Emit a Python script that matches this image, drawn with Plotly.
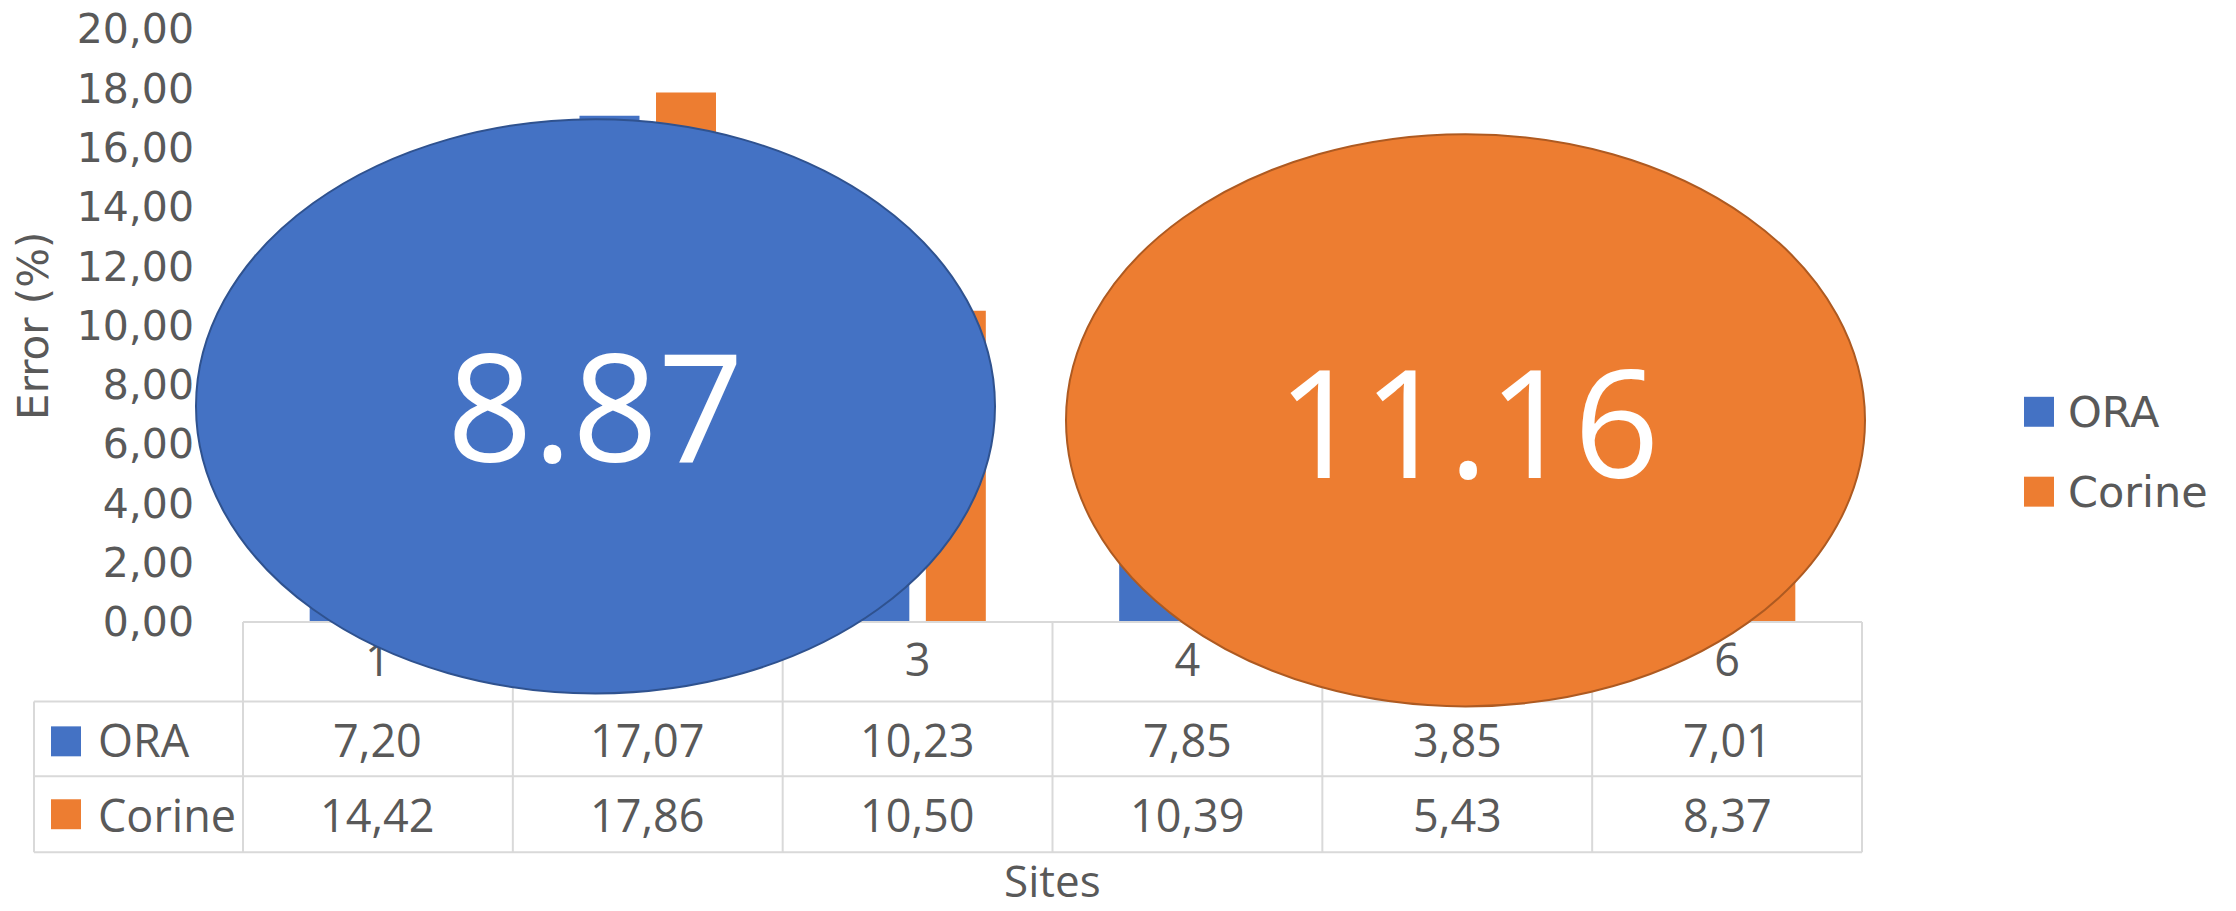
import numpy as np
import plotly.graph_objects as go

# Error per site for the two land-cover sources
sites = ["1", "2", "3", "4", "5", "6"]
ora = [7.20, 17.07, 10.23, 7.85, 3.85, 7.01]
corine = [14.42, 17.86, 10.50, 10.39, 5.43, 8.37]
series_names = ["ORA", "Corine"]
y_ticks = [0, 2, 4, 6, 8, 10, 12, 14, 16, 18, 20]

BLUE = "#4472C4"
ORANGE = "#ED7D31"
GREY = "#595959"
GRID = "#D9D9D9"

W, H = 2236, 911
L, R, T, B = 243, 1862, 28.7, 622.5   # plot area in pixels


def px(x):
    return (x - L) / (R - L)


def py(y):
    return (B - y) / (B - T)


def fmt(v):
    return f"{v:.2f}".replace(".", ",")


fig = go.Figure()
fig.add_trace(go.Bar(x=sites, y=ora, name=series_names[0], marker_color=BLUE,
                     marker_line_width=0))
fig.add_trace(go.Bar(x=sites, y=corine, name=series_names[1], marker_color=ORANGE,
                     marker_line_width=0))

shapes = []
col_w = (R - L) / len(sites)
row_top, row1, row2, row_bot = B, 702, 777, 853
legend_left = 34

# data table grid
shapes.append(dict(type="line", xref="paper", yref="paper", x0=px(L), x1=px(R),
                   y0=py(row_top), y1=py(row_top), line=dict(color=GRID, width=2)))
for yy in (row1, row2, row_bot):
    shapes.append(dict(type="line", xref="paper", yref="paper", x0=px(legend_left), x1=px(R),
                       y0=py(yy), y1=py(yy), line=dict(color=GRID, width=2)))
for k in range(len(sites) + 1):
    xx = L + k * col_w
    shapes.append(dict(type="line", xref="paper", yref="paper", x0=px(xx), x1=px(xx),
                       y0=py(row_top), y1=py(row_bot), line=dict(color=GRID, width=2)))
shapes.append(dict(type="line", xref="paper", yref="paper", x0=px(legend_left), x1=px(legend_left),
                   y0=py(row1), y1=py(row_bot), line=dict(color=GRID, width=2)))

# legend keys inside the table
for (y0, y1), col in zip([(727, 757), (800, 830)], [BLUE, ORANGE]):
    shapes.append(dict(type="rect", xref="paper", yref="paper", x0=px(51), x1=px(81),
                       y0=py(y1), y1=py(y0), fillcolor=col, line=dict(width=0)))

# legend keys on the right
for (y0, y1), col in zip([(397, 427), (477, 507)], [BLUE, ORANGE]):
    shapes.append(dict(type="rect", xref="paper", yref="paper", x0=px(2024), x1=px(2054),
                       y0=py(y1), y1=py(y0), fillcolor=col, line=dict(width=0)))

# mean bubbles
shapes.append(dict(type="circle", xref="paper", yref="paper", x0=px(196), x1=px(995),
                   y0=py(694), y1=py(119), fillcolor=BLUE, line=dict(color="#2F528F", width=2)))
shapes.append(dict(type="circle", xref="paper", yref="paper", x0=px(1066), x1=px(1865),
                   y0=py(707), y1=py(134), fillcolor=ORANGE, line=dict(color="#AE5A21", width=2)))

annotations = []
table_font = dict(family="Open Sans", size=45, color=GREY)
for i in range(len(sites)):
    annotations.append(dict(x=i, xref="x", y=py(740), yref="paper", text=fmt(ora[i]),
                            showarrow=False, font=table_font, xanchor="center", yanchor="middle"))
    annotations.append(dict(x=i, xref="x", y=py(815), yref="paper", text=fmt(corine[i]),
                            showarrow=False, font=table_font, xanchor="center", yanchor="middle"))
for name, yc in zip(series_names, (740, 815)):
    annotations.append(dict(x=px(96), xref="paper", y=py(yc), yref="paper", text=name,
                            showarrow=False, font=table_font, xanchor="left", yanchor="middle"))

legend_font = dict(family="DejaVu Sans", size=43, color=GREY)
for name, yc in zip(series_names, (412, 492)):
    annotations.append(dict(x=px(2066), xref="paper", y=py(yc), yref="paper", text=name,
                            showarrow=False, font=legend_font, xanchor="left", yanchor="middle"))

annotations.append(dict(x=px(34), xref="paper", y=py(326), yref="paper", text="Error (%)",
                        textangle=-90, showarrow=False, font=dict(family="DejaVu Sans", size=42, color=GREY),
                        xanchor="center", yanchor="middle"))
annotations.append(dict(x=px(1052), xref="paper", y=py(881), yref="paper", text="Sites",
                        showarrow=False, font=dict(family="Open Sans", size=44, color=GREY),
                        xanchor="center", yanchor="middle"))

# series means written in the bubbles
bubble_font = dict(family="Open Sans", size=150, color="white")
annotations.append(dict(x=px(595), xref="paper", y=py(404), yref="paper",
                        text=f"{np.mean(ora):.2f}", showarrow=False, font=bubble_font,
                        xanchor="center", yanchor="middle"))
annotations.append(dict(x=px(1468), xref="paper", y=py(420), yref="paper",
                        text=f"{np.mean(corine):.2f}", showarrow=False, font=bubble_font,
                        xanchor="center", yanchor="middle"))

fig.update_layout(
    width=W, height=H,
    margin=dict(l=L, r=W - R, t=T, b=H - B, autoexpand=False),
    paper_bgcolor="white", plot_bgcolor="white",
    barmode="group", bargap=0.433, bargroupgap=0.216,
    showlegend=False,
    separators=",.",
    shapes=shapes, annotations=annotations,
    xaxis=dict(type="category", range=[-0.5, len(sites) - 0.5], showgrid=False, showline=False,
               zeroline=False, ticks="", tickfont=dict(family="Open Sans", size=45, color=GREY),
               ticklabelstandoff=8),
    yaxis=dict(range=[0, 20], tickvals=y_ticks, tickformat=".2f", showgrid=False, showline=False,
               zeroline=False, ticks="", tickfont=dict(family="DejaVu Sans", size=41, color=GREY),
               ticklabelstandoff=48),
)

fig.write_html("out.html")
